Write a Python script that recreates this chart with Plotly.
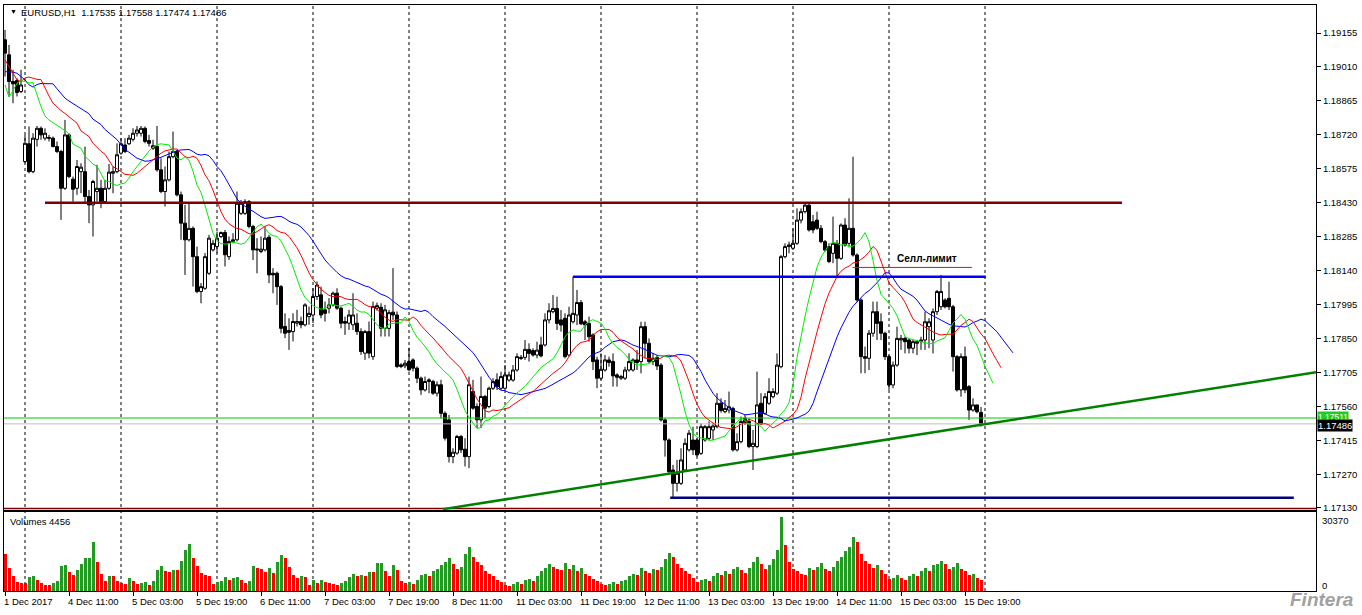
import plotly.graph_objects as go

W, H = 1362, 615

# ---------------- data (EURUSD H1, bars from 1 Dec 2017 19:00 to 15 Dec 2017 23:00) ----------------
opens = [1.19126,1.19062,1.18948,1.18952,1.18905,1.18606,1.18682,1.18563,1.18701,1.18748,
1.18706,1.18709,1.18706,1.18670,1.18649,1.18492,1.18720,1.18531,1.18492,1.18563,
1.18563,1.18457,1.18421,1.18478,1.18492,1.18435,1.18492,1.18556,1.18563,1.18642,
1.18677,1.18682,1.18701,1.18727,1.18727,1.18748,1.18696,1.18663,1.18670,1.18571,
1.18478,1.18528,1.18627,1.18649,1.18464,1.18343,1.18272,1.18321,1.18200,1.18051,
1.18065,1.18129,1.18229,1.18243,1.18286,1.18303,1.18200,1.18265,1.18272,1.18385,
1.18385,1.18435,1.18329,1.18233,1.18222,1.18229,1.18283,1.18129,1.18129,1.18072,
1.17902,1.17885,1.17880,1.17916,1.17923,1.17909,1.17944,1.17951,1.18030,1.18037,
1.17973,1.17980,1.17994,1.18044,1.17980,1.17923,1.17916,1.17909,1.17916,1.17880,
1.17788,1.17880,1.17773,1.17980,1.17984,1.17894,1.17894,1.17963,1.17951,1.17731,
1.17734,1.17752,1.17759,1.17724,1.17681,1.17631,1.17667,1.17667,1.17617,1.17653,
1.17531,1.17503,1.17346,1.17361,1.17432,1.17378,1.17346,1.17624,1.17560,1.17503,
1.17603,1.17560,1.17638,1.17674,1.17638,1.17638,1.17673,1.17673,1.17716,1.17770,
1.17770,1.17804,1.17799,1.17780,1.17823,1.17823,1.17930,1.17965,1.17979,1.17930,
1.17937,1.17780,1.17922,1.17951,1.18004,1.17922,1.17915,1.17866,1.17759,1.17681,
1.17716,1.17759,1.17752,1.17695,1.17681,1.17681,1.17716,1.17716,1.17759,1.17752,
1.17901,1.17830,1.17752,1.17770,1.17737,1.17503,1.17417,1.17289,1.17232,1.17232,
1.17289,1.17375,1.17417,1.17417,1.17360,1.17417,1.17424,1.17460,1.17474,1.17574,
1.17538,1.17545,1.17552,1.17375,1.17410,1.17510,1.17496,1.17389,1.17389,1.17574,
1.17531,1.17574,1.17602,1.17617,1.17730,1.18200,1.18243,1.18236,1.18257,1.18356,
1.18392,1.18420,1.18349,1.18356,1.18321,1.18264,1.18243,1.18214,1.18257,1.18193,
1.18335,1.18257,1.18321,1.18207,1.18015,1.17773,1.17766,1.17873,1.17965,1.17922,
1.17873,1.17773,1.17652,1.17737,1.17844,1.17851,1.17844,1.17809,1.17830,1.17837,
1.17844,1.17901,1.17844,1.17965,1.17986,1.18015,1.18022,1.17986,1.17773,1.17631,
1.17773,1.17645,1.17545,1.17567,1.17535]
highs = [1.19168,1.19104,1.18998,1.18962,1.18998,1.18720,1.18756,1.18727,1.18758,1.18756,
1.18748,1.18720,1.18713,1.18692,1.18656,1.18784,1.18727,1.18542,1.18613,1.18599,
1.18670,1.18485,1.18528,1.18592,1.18528,1.18528,1.18596,1.18585,1.18684,1.18706,
1.18706,1.18720,1.18748,1.18758,1.18758,1.18756,1.18720,1.18699,1.18758,1.18620,
1.18585,1.18649,1.18734,1.18656,1.18478,1.18421,1.18428,1.18329,1.18243,1.18087,
1.18215,1.18293,1.18272,1.18307,1.18307,1.18314,1.18286,1.18300,1.18478,1.18442,
1.18445,1.18442,1.18336,1.18279,1.18286,1.18329,1.18293,1.18151,1.18136,1.18079,
1.17958,1.17937,1.17958,1.17973,1.17944,1.18001,1.17987,1.18065,1.18094,1.18072,
1.18008,1.18023,1.18051,1.18065,1.17987,1.17944,1.17973,1.18044,1.17958,1.17894,
1.17887,1.17923,1.18008,1.18004,1.18001,1.17994,1.17973,1.18151,1.17966,1.17745,
1.17759,1.17811,1.17766,1.17731,1.17688,1.17688,1.17681,1.17674,1.17667,1.17674,
1.17539,1.17524,1.17382,1.17439,1.17439,1.17425,1.17688,1.17674,1.17574,1.17688,
1.17610,1.17645,1.17681,1.17702,1.17709,1.17737,1.17709,1.17737,1.17787,1.17780,
1.17844,1.17830,1.17809,1.17837,1.17858,1.17958,1.18001,1.18036,1.18029,1.17972,
1.17958,1.17986,1.18115,1.18058,1.18015,1.17930,1.17944,1.17873,1.17773,1.17787,
1.17780,1.17773,1.17787,1.17702,1.17695,1.17730,1.17787,1.17766,1.17801,1.17922,
1.17922,1.17851,1.17787,1.17780,1.17745,1.17510,1.17424,1.17311,1.17332,1.17382,
1.17424,1.17460,1.17474,1.17424,1.17488,1.17481,1.17496,1.17488,1.17617,1.17595,
1.17588,1.17624,1.17559,1.17446,1.17517,1.17524,1.17510,1.17460,1.17709,1.17617,
1.17617,1.17681,1.17638,1.17787,1.18207,1.18257,1.18264,1.18321,1.18406,1.18406,
1.18428,1.18428,1.18378,1.18392,1.18335,1.18271,1.18257,1.18371,1.18271,1.18342,
1.18364,1.18449,1.18627,1.18214,1.18022,1.17816,1.17887,1.18008,1.18008,1.17958,
1.17880,1.17780,1.17752,1.17901,1.17866,1.17858,1.17851,1.17844,1.17844,1.17858,
1.17965,1.17937,1.17979,1.18058,1.18122,1.18022,1.18093,1.17994,1.17780,1.17787,
1.17816,1.17652,1.17595,1.17567,1.17558]
lows = [1.18969,1.18884,1.18855,1.18884,1.18898,1.18599,1.18556,1.18556,1.18670,1.18699,
1.18696,1.18692,1.18667,1.18642,1.18357,1.18485,1.18535,1.18435,1.18464,1.18471,
1.18428,1.18343,1.18286,1.18435,1.18407,1.18428,1.18485,1.18471,1.18556,1.18635,
1.18642,1.18677,1.18692,1.18713,1.18713,1.18684,1.18670,1.18656,1.18563,1.18471,
1.18414,1.18521,1.18620,1.18457,1.18272,1.18122,1.18265,1.18072,1.18044,1.18001,
1.18058,1.18122,1.18222,1.18215,1.18279,1.18158,1.18186,1.18257,1.18265,1.18378,
1.18378,1.18321,1.18186,1.18129,1.18215,1.18222,1.18087,1.18044,1.17994,1.17873,
1.17852,1.17802,1.17838,1.17902,1.17894,1.17902,1.17909,1.17916,1.18015,1.17937,
1.17923,1.17958,1.17987,1.17973,1.17894,1.17866,1.17887,1.17887,1.17866,1.17781,
1.17759,1.17766,1.17759,1.17970,1.17859,1.17859,1.17859,1.17930,1.17724,1.17724,
1.17724,1.17710,1.17710,1.17660,1.17610,1.17624,1.17617,1.17610,1.17603,1.17510,
1.17415,1.17321,1.17318,1.17354,1.17361,1.17304,1.17297,1.17546,1.17468,1.17468,
1.17510,1.17553,1.17631,1.17631,1.17631,1.17631,1.17666,1.17666,1.17709,1.17759,
1.17759,1.17752,1.17773,1.17766,1.17770,1.17816,1.17915,1.17958,1.17887,1.17880,
1.17766,1.17773,1.17915,1.17908,1.17908,1.17844,1.17837,1.17716,1.17638,1.17673,
1.17709,1.17730,1.17645,1.17645,1.17673,1.17673,1.17709,1.17709,1.17716,1.17702,
1.17766,1.17745,1.17737,1.17716,1.17496,1.17346,1.17275,1.17173,1.17197,1.17225,
1.17282,1.17368,1.17353,1.17346,1.17353,1.17410,1.17417,1.17417,1.17467,1.17534,
1.17531,1.17531,1.17368,1.17368,1.17403,1.17481,1.17382,1.17289,1.17382,1.17481,
1.17524,1.17567,1.17595,1.17609,1.17723,1.18193,1.18214,1.18228,1.18250,1.18342,
1.18385,1.18307,1.18300,1.18314,1.18257,1.18221,1.18172,1.18172,1.18115,1.18186,
1.18243,1.18243,1.18200,1.18008,1.17702,1.17702,1.17716,1.17858,1.17844,1.17844,
1.17759,1.17631,1.17638,1.17730,1.17802,1.17787,1.17787,1.17787,1.17780,1.17802,
1.17802,1.17809,1.17787,1.17951,1.17972,1.17979,1.17972,1.17709,1.17624,1.17602,
1.17617,1.17503,1.17538,1.17531,1.17474]
closes = [1.19069,1.18948,1.18938,1.18901,1.18933,1.18684,1.18563,1.18706,1.18748,1.18720,
1.18727,1.18706,1.18670,1.18649,1.18492,1.18720,1.18542,1.18488,1.18585,1.18582,
1.18457,1.18421,1.18521,1.18492,1.18435,1.18492,1.18561,1.18563,1.18635,1.18682,
1.18649,1.18706,1.18727,1.18741,1.18748,1.18692,1.18684,1.18674,1.18571,1.18478,
1.18528,1.18627,1.18649,1.18464,1.18343,1.18272,1.18321,1.18200,1.18051,1.18072,
1.18200,1.18279,1.18257,1.18279,1.18303,1.18208,1.18265,1.18272,1.18428,1.18428,
1.18435,1.18329,1.18229,1.18229,1.18232,1.18279,1.18122,1.18122,1.18072,1.17894,
1.17873,1.17877,1.17923,1.17923,1.17909,1.17994,1.17958,1.18030,1.18079,1.17951,
1.17958,1.17994,1.18044,1.17980,1.17916,1.17916,1.17951,1.17951,1.17880,1.17795,
1.17880,1.17788,1.17987,1.17991,1.17894,1.17973,1.17961,1.17951,1.17731,1.17738,
1.17745,1.17717,1.17724,1.17681,1.17631,1.17667,1.17674,1.17617,1.17653,1.17531,
1.17425,1.17346,1.17365,1.17432,1.17375,1.17346,1.17653,1.17553,1.17503,1.17603,
1.17553,1.17638,1.17667,1.17645,1.17688,1.17695,1.17695,1.17716,1.17773,1.17766,
1.17804,1.17787,1.17780,1.17801,1.17776,1.17930,1.17969,1.17979,1.17915,1.17908,
1.17773,1.17951,1.17958,1.18004,1.17913,1.17908,1.17858,1.17752,1.17681,1.17719,
1.17759,1.17748,1.17691,1.17685,1.17688,1.17716,1.17752,1.17759,1.17748,1.17901,
1.17830,1.17752,1.17766,1.17733,1.17503,1.17417,1.17282,1.17232,1.17275,1.17332,
1.17403,1.17446,1.17375,1.17353,1.17474,1.17474,1.17474,1.17477,1.17574,1.17543,
1.17552,1.17559,1.17375,1.17410,1.17496,1.17488,1.17389,1.17403,1.17567,1.17488,
1.17602,1.17624,1.17624,1.17737,1.18200,1.18243,1.18250,1.18257,1.18356,1.18392,
1.18420,1.18314,1.18314,1.18321,1.18264,1.18228,1.18179,1.18257,1.18193,1.18335,
1.18250,1.18321,1.18207,1.18015,1.17773,1.17766,1.17873,1.17965,1.17915,1.17873,
1.17773,1.17652,1.17737,1.17851,1.17851,1.17837,1.17809,1.17837,1.17837,1.17844,
1.17922,1.17922,1.17965,1.18051,1.18051,1.17986,1.17986,1.17773,1.17631,1.17773,
1.17631,1.17545,1.17567,1.17538,1.17486]
volumes = [15257,9293,6240,3745,3467,3400,5548,6241,4577,3190,
2497,2450,3190,4161,10403,10819,7629,6658,8738,11235,
13454,13600,20112,11790,6935,4161,6241,6100,4161,3467,
3051,5132,4161,3051,3467,3745,2635,4161,8738,10403,
8322,7906,8738,8600,12483,16644,19141,13454,10403,7351,
6519,6241,2774,3745,4022,5548,4577,5132,5548,4577,
3467,4161,10403,9431,9015,7629,9293,7212,11790,14564,
13454,9709,6658,5132,5964,5548,2497,4577,3467,4577,
3745,3190,2774,2358,3190,4022,5825,6935,6241,6658,
6241,7906,7629,11373,11500,8322,6241,10819,8738,4000,
3200,3500,3000,4500,6500,7000,6000,8000,9000,10500,
12000,13500,11000,9000,10000,15000,18000,14000,12000,10500,
8000,7000,6000,4500,3500,2500,2000,3000,3500,2800,
4500,5000,4200,6000,8000,9500,11000,10000,9000,8500,
11500,9000,10500,8000,9500,7000,6000,5000,4000,3000,
2500,2800,3500,3000,4000,4500,6000,7000,6500,9500,
8000,7500,9000,8500,10000,13000,15500,14000,11000,9500,
8000,7000,5500,3500,4500,5000,4000,6000,7500,6500,
8000,7000,9000,10000,8500,7500,9500,12000,14000,11000,
9000,10500,13000,17000,30370,19000,12000,9000,8000,7000,
6500,9500,8500,10000,11500,9000,8000,10000,12500,14000,
16500,18000,22000,20000,15000,12500,11000,9500,10500,8500,
7000,5000,5500,6500,5500,4500,6000,7000,6000,8000,
9500,8000,10500,11000,12500,11000,9000,10000,11500,9000,
8000,6500,7000,5500,4456]

# Alligator lead-in values (displayed before first computed value)
jaw_lead = [1.18990,1.18990,1.18988,1.18983,1.18969,1.18955,1.18934,1.18924]
teeth_lead = [1.19040,1.19012,1.18983,1.18955,1.18948]
lips_lead = [1.18934,1.18881,1.18909]

# axis ticks
price_ticks = [1.19155,1.19010,1.18865,1.18720,1.18575,1.18430,1.18285,1.18140,
               1.17995,1.17850,1.17705,1.17560,1.17415,1.17270,1.17130]
time_tick_idx = [0,16,32,48,64,80,96,112,128,144,160,176,192,208,224,240]
time_tick_labels = ["1 Dec 2017","4 Dec 11:00","5 Dec 03:00","5 Dec 19:00","6 Dec 11:00",
                    "7 Dec 03:00","7 Dec 19:00","8 Dec 11:00","11 Dec 03:00","11 Dec 19:00",
                    "12 Dec 11:00","13 Dec 03:00","13 Dec 19:00","14 Dec 11:00","15 Dec 03:00",
                    "15 Dec 19:00"]
day_start_idx = [5,29,53,77,101,125,149,173,197,221,245]

# drawn objects (levels / anchors, in bar index and price)
resist_level, resist_span = 1.18430, [10, 279.25]
sell_level, sell_span = 1.18114, [142, 245.2]
sell_note_level, sell_note_span = 1.18154, [211.9, 241.7]
support_level, support_span = 1.17171, [166.3, 322.2]
trend_x, trend_y = [109.5, 327.75], [1.17122, 1.17706]
ask_price, bid_price = 1.17511, 1.17486
bottom_level = 1.17125

n = len(opens)
assert len(highs) == n and len(lows) == n and len(closes) == n and len(volumes) == n
idx = list(range(n))

# ---------------- geometry ----------------
def px(p):
    return p / W

def py(p):
    return 1 - p / H

X0, X1 = 4, 1316
MAIN_T, MAIN_B = 5, 510
VOL_T, VOL_B = 512, 591
x_range = [-0.25, 327.75]
p_range = [1.171182, 1.192746]
v_range = [0, 32400]

def smma(vals, period, seed):
    out, prev = [], seed
    for v in vals:
        prev = (prev * (period - 1) + v) / period
        out.append(prev)
    return out

median = [(h + l) / 2 for h, l in zip(highs, lows)]
jaw = jaw_lead + smma(median, 13, jaw_lead[-1])
teeth = teeth_lead + smma(median, 8, teeth_lead[-1])
lips = lips_lead + smma(median, 5, lips_lead[-1])

vol_colors = []
for i, v in enumerate(volumes):
    vol_colors.append('#229A22' if i > 0 and v > volumes[i - 1] else '#FF0000')

fig = go.Figure()

fig.add_trace(go.Candlestick(
    x=idx, open=opens, high=highs, low=lows, close=closes,
    increasing=dict(line=dict(color='black', width=1), fillcolor='white'),
    decreasing=dict(line=dict(color='black', width=1), fillcolor='black'),
    whiskerwidth=0, showlegend=False, hoverinfo='skip', xaxis='x', yaxis='y'))

def hline(level, span, color, width, dash=None):
    fig.add_trace(go.Scatter(x=span, y=[level, level], mode='lines',
                             line=dict(color=color, width=width, dash=dash),
                             showlegend=False, hoverinfo='skip', xaxis='x', yaxis='y'))

hline(ask_price, x_range, '#00CC00', 1)
hline(bid_price, x_range, '#C0C0C0', 1)
hline(bottom_level, x_range, '#800000', 1.5)

fig.add_trace(go.Scatter(x=list(range(len(jaw))), y=jaw, mode='lines', line=dict(color='#0000FF', width=1),
                         showlegend=False, hoverinfo='skip', xaxis='x', yaxis='y'))
fig.add_trace(go.Scatter(x=list(range(len(teeth))), y=teeth, mode='lines', line=dict(color='#FF0000', width=1),
                         showlegend=False, hoverinfo='skip', xaxis='x', yaxis='y'))
fig.add_trace(go.Scatter(x=list(range(len(lips))), y=lips, mode='lines', line=dict(color='#00EE00', width=1),
                         showlegend=False, hoverinfo='skip', xaxis='x', yaxis='y'))

hline(resist_level, resist_span, '#800000', 2.5)
hline(sell_level, sell_span, '#0000FF', 2.5)
hline(sell_note_level, sell_note_span, '#FF0000', 1)
hline(support_level, support_span, '#000080', 2.5)
fig.add_trace(go.Scatter(x=trend_x, y=trend_y, mode='lines', line=dict(color='#008000', width=2.5),
                         showlegend=False, hoverinfo='skip', xaxis='x', yaxis='y'))

fig.add_trace(go.Bar(x=idx, y=volumes, marker=dict(color=vol_colors, line=dict(width=0)),
                     width=0.75, showlegend=False, hoverinfo='skip', xaxis='x2', yaxis='y2'))

font = "Liberation Sans, Arial, sans-serif"

shapes = []
for d in day_start_idx:
    shapes.append(dict(type='line', xref='x', yref='paper', x0=d, x1=d,
                       y0=py(VOL_B), y1=py(MAIN_T), line=dict(color='black', width=1, dash='3px,3px'),
                       layer='below'))

annotations = []
annotations.append(dict(x=px(8), y=py(11), xref='paper', yref='paper', text='▼', showarrow=False,
                        xanchor='left', yanchor='middle', font=dict(family=font, size=7, color='black')))
annotations.append(dict(x=px(19), y=py(12), xref='paper', yref='paper',
                        text='EURUSD,H1\u00a0\u00a0{:.5f} {:.5f} {:.5f} {:.5f}'.format(opens[-1], highs[-1], lows[-1], closes[-1]),
                        showarrow=False, xanchor='left', yanchor='middle',
                        font=dict(family=font, size=9.5, color='black')))
annotations.append(dict(x=px(8), y=py(521), xref='paper', yref='paper', text='Volumes {}'.format(volumes[-1]),
                        showarrow=False, xanchor='left', yanchor='middle',
                        font=dict(family=font, size=9.5, color='black')))
annotations.append(dict(x=sell_note_span[0] + 10.5, y=sell_note_level, xref='x', yref='y',
                        text='<b>Селл-лимит</b>', showarrow=False, xanchor='left', yanchor='bottom',
                        yshift=1, font=dict(family=font, size=10, color='black')))
annotations.append(dict(x=px(1317), y=ask_price, xref='paper', yref='y', text='{:.5f}'.format(ask_price),
                        showarrow=False, xanchor='left', yanchor='middle', bgcolor='#22CC22', yshift=1,
                        borderpad=0, font=dict(family=font, size=8.5, color='white')))
annotations.append(dict(x=px(1317), y=bid_price, xref='paper', yref='y', text='{:.5f}'.format(bid_price),
                        showarrow=False, xanchor='left', yanchor='middle', bgcolor='black', yshift=-2,
                        borderpad=0, font=dict(family=font, size=9.5, color='white')))
annotations.append(dict(x=px(1320), y=py(520), xref='paper', yref='paper', text=str(max(volumes)),
                        showarrow=False, xanchor='left', yanchor='middle',
                        font=dict(family=font, size=9.5, color='black')))
annotations.append(dict(x=px(1320), y=py(585), xref='paper', yref='paper', text='0',
                        showarrow=False, xanchor='left', yanchor='middle',
                        font=dict(family=font, size=9.5, color='black')))
for ti, tl in zip(time_tick_idx, time_tick_labels):
    annotations.append(dict(x=ti, y=py(601), xref='x', yref='paper', text=tl, showarrow=False,
                            xanchor='left', yanchor='middle', xshift=-3,
                            font=dict(family=font, size=9.5, color='black')))
annotations.append(dict(x=px(1356), y=py(599), xref='paper', yref='paper', text='<b><i>Fintera</i></b>',
                        showarrow=False, xanchor='right', yanchor='middle',
                        font=dict(family=font, size=19, color='#A0A0A0')))

fig.update_layout(
    width=W, height=H,
    margin=dict(l=0, r=0, t=0, b=0, autoexpand=False),
    paper_bgcolor='white', plot_bgcolor='white',
    showlegend=False,
    bargap=0, boxgap=0.25, boxgroupgap=0,
    xaxis=dict(domain=[px(X0), px(X1)], range=x_range, anchor='y', showgrid=False, zeroline=False,
               showticklabels=False, ticks='', showline=True, mirror=True, linecolor='black', linewidth=1,
               rangeslider=dict(visible=False), fixedrange=True),
    yaxis=dict(domain=[py(MAIN_B), py(MAIN_T)], range=p_range, anchor='x', side='right', showgrid=False,
               zeroline=False, tickvals=price_ticks, ticktext=['{:.5f}'.format(t) for t in price_ticks],
               ticks='outside', ticklen=4, tickcolor='black', showline=True, mirror=True,
               linecolor='black', linewidth=1, tickfont=dict(family=font, size=9.5, color='black'),
               fixedrange=True),
    xaxis2=dict(domain=[px(X0), px(X1)], range=x_range, anchor='y2', matches='x', showgrid=False,
                zeroline=False, showticklabels=False, tickvals=time_tick_idx, ticks='outside', ticklen=4,
                tickcolor='black', showline=True, mirror=True, linecolor='black', linewidth=1,
                fixedrange=True),
    yaxis2=dict(domain=[py(VOL_B), py(VOL_T)], range=v_range, anchor='x2', side='right', showgrid=False,
                zeroline=False, showticklabels=False, ticks='', showline=True, mirror=True,
                linecolor='black', linewidth=1, fixedrange=True),
    shapes=shapes,
    annotations=annotations,
)

fig.write_html("out.html", config={'displayModeBar': False},
               post_script="document.body.style.margin='0';document.body.style.overflow='hidden';")
